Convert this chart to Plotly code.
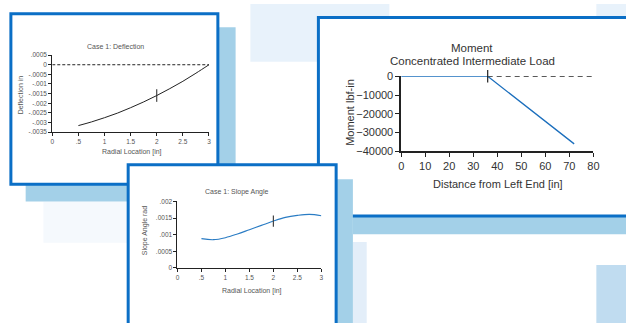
import plotly.graph_objects as go

W, H = 626, 323

# ---------------- data ----------------
defl_x = [0.5, 0.75, 1.0, 1.25, 1.5, 1.75, 2.0, 2.25, 2.5, 2.75, 3.0]
defl_y = [-0.00316, -0.00297, -0.00275, -0.00251, -0.00223, -0.00193,
          -0.00160, -0.00124, -0.00086, -0.00044, 0.0]
defl_zero_x = [0, 3]
defl_zero_y = [0, 0]
defl_mark_x = [2.0]
defl_mark_y = [-0.00160]
defl_xticks = [0, 0.5, 1, 1.5, 2, 2.5, 3]
defl_xlabels = ["0", ".5", "1", "1.5", "2", "2.5", "3"]
defl_yticks = [0.0005, 0, -0.0005, -0.001, -0.0015, -0.002, -0.0025, -0.003, -0.0035]
defl_ylabels = [".0005", "0", "-.0005", "-.001", "-.0015", "-.002", "-.0025", "-.003", "-.0035"]

slope_x = [0.5, 0.75, 1.0, 1.25, 1.5, 1.75, 2.0, 2.25, 2.5, 2.75, 3.0]
slope_y = [0.00088, 0.00085, 0.00091, 0.00102, 0.00115, 0.00128,
           0.00141, 0.00152, 0.00158, 0.00161, 0.00157]
slope_mark_x = [2.0]
slope_mark_y = [0.00141]
slope_xticks = [0, 0.5, 1, 1.5, 2, 2.5, 3]
slope_xlabels = ["0", ".5", "1", "1.5", "2", "2.5", "3"]
slope_yticks = [0, 0.0005, 0.001, 0.0015, 0.002]
slope_ylabels = ["0", ".0005", ".001", ".0015", ".002"]

mom_x = [0, 36, 72]
mom_y = [0, 0, -36000]
mom_zero_x = [36, 80]
mom_zero_y = [0, 0]
mom_mark_x = [36]
mom_mark_y = [0]
mom_xticks = [0, 10, 20, 30, 40, 50, 60, 70, 80]
mom_yticks = [0, -10000, -20000, -30000, -40000]

# ---------------- helpers ----------------
def px(x):
    return x / W

def py(y):
    return 1 - y / H

def rect(x0, y0, x1, y1, fill, line=None, lw=0):
    d = dict(type="rect", xref="paper", yref="paper",
             x0=px(x0), x1=px(x1), y0=py(y1), y1=py(y0),
             fillcolor=fill, layer="below")
    if line:
        d["line"] = dict(color=line, width=lw)
    else:
        d["line"] = dict(width=0)
    return d

BLUE = "#0b6fc6"
SHADOW = "#a3d0e8"
PALE = "#e8f2fb"
SMALL_FONT = dict(family="Liberation Sans, Arial, sans-serif", size=6.5, color="#555555")
BIG_FONT = dict(family="Liberation Sans, Arial, sans-serif", size=11, color="#333333")

fig = go.Figure()

# deflection
fig.add_trace(go.Scatter(x=defl_zero_x, y=defl_zero_y, mode="lines",
                         line=dict(color="#222222", width=1, dash="3px,2px"),
                         xaxis="x", yaxis="y", showlegend=False, hoverinfo="skip"))
fig.add_trace(go.Scatter(x=defl_x, y=defl_y, mode="lines", line_shape="spline",
                         line=dict(color="#222222", width=1),
                         xaxis="x", yaxis="y", showlegend=False))
fig.add_trace(go.Scatter(x=defl_mark_x, y=defl_mark_y, mode="markers",
                         marker=dict(symbol="line-ns", size=9, line=dict(color="#222222", width=1)),
                         xaxis="x", yaxis="y", showlegend=False))

# moment
fig.add_trace(go.Scatter(x=mom_zero_x, y=mom_zero_y, mode="lines",
                         line=dict(color="#222222", width=1.2, dash="5px,4px"),
                         xaxis="x2", yaxis="y2", showlegend=False, cliponaxis=False))
fig.add_trace(go.Scatter(x=mom_x, y=mom_y, mode="lines",
                         line=dict(color="#1c6fbd", width=1.3),
                         xaxis="x2", yaxis="y2", showlegend=False, cliponaxis=False))
fig.add_trace(go.Scatter(x=mom_mark_x, y=mom_mark_y, mode="markers",
                         marker=dict(symbol="line-ns", size=9, line=dict(color="#222222", width=1.2)),
                         xaxis="x2", yaxis="y2", showlegend=False, cliponaxis=False))

# slope
fig.add_trace(go.Scatter(x=slope_x, y=slope_y, mode="lines", line_shape="spline",
                         line=dict(color="#2a7cc4", width=1.1),
                         xaxis="x3", yaxis="y3", showlegend=False))
fig.add_trace(go.Scatter(x=slope_mark_x, y=slope_mark_y, mode="markers",
                         marker=dict(symbol="line-ns", size=8, line=dict(color="#444444", width=1.2)),
                         xaxis="x3", yaxis="y3", showlegend=False))

small_axis = dict(showgrid=False, zeroline=False, showline=True, linecolor="#222222",
                  linewidth=1, ticks="outside", ticklen=3, tickwidth=1, tickcolor="#222222",
                  tickfont=SMALL_FONT, fixedrange=True)
big_axis = dict(showgrid=False, zeroline=False, showline=True, linecolor="#222222",
                linewidth=1.5, ticks="outside", ticklen=4, tickwidth=1.2, tickcolor="#222222",
                tickfont=BIG_FONT, fixedrange=True)

shapes = [
    rect(251, -2, 392, 58, PALE),
    rect(602, -2, 640, 30, PALE),
    rect(602, 269, 640, 330, "#c0dcf0"),
    rect(41, 203, 127, 246, "#f5f9fd"),
    rect(355, 245, 369, 330, "#e3eef9"),
    rect(23, 22, 236, 203, SHADOW),
    rect(8, 8, 218, 185, "white", BLUE, 3),
    rect(355, 30, 640, 237, SHADOW),
    rect(320, 12, 640, 218, "white", BLUE, 3),
    rect(150, 180, 355, 330, SHADOW),
    rect(127, 165, 338, 335, "white", BLUE, 3),
]

def ann(text, x, y, font, angle=0):
    return dict(text=text, x=px(x), y=py(y), xref="paper", yref="paper",
                showarrow=False, font=font, textangle=angle,
                xanchor="center", yanchor="middle")

title_small = dict(SMALL_FONT, size=7)
annotations = [
    ann("Case 1: Deflection", 114, 42, title_small),
    ann("Deflection in", 18, 92, title_small, -90),
    ann("Radial Location [in]", 131, 152, title_small),
    ann("Moment", 476, 44, dict(BIG_FONT, size=11.5)),
    ann("Concentrated Intermediate Load", 476, 57, dict(BIG_FONT, size=11.5)),
    ann("Moment lbf-in", 352, 110, BIG_FONT, -90),
    ann("Distance from Left End [in]", 502, 185, BIG_FONT),
    ann("Case 1: Slope Angle", 237, 193, title_small),
    ann("Slope Angle rad", 144, 233, title_small, -90),
    ann("Radial Location [in]", 253, 296, title_small),
]

fig.update_layout(
    width=W, height=H,
    margin=dict(l=0, r=0, t=0, b=0),
    paper_bgcolor="white",
    plot_bgcolor="rgba(0,0,0,0)",
    showlegend=False,
    shapes=shapes,
    annotations=annotations,
    xaxis=dict(small_axis, domain=[px(50), px(209)], range=[0, 3], anchor="y",
               tickvals=defl_xticks, ticktext=defl_xlabels),
    yaxis=dict(small_axis, domain=[py(131), py(51)], range=[-0.0035, 0.0005], anchor="x",
               tickvals=defl_yticks, ticktext=defl_ylabels),
    xaxis2=dict(big_axis, domain=[px(404), px(599)], range=[0, 80], anchor="y2",
                tickvals=mom_xticks),
    yaxis2=dict(big_axis, domain=[py(151), py(73)], range=[-40000, 0], anchor="x2",
                tickvals=mom_yticks, tickformat="d"),
    xaxis3=dict(small_axis, domain=[px(177), px(323)], range=[0, 3], anchor="y3",
                tickvals=slope_xticks, ticktext=slope_xlabels),
    yaxis3=dict(small_axis, domain=[py(272), py(203)], range=[0, 0.002], anchor="x3",
                tickvals=slope_yticks, ticktext=slope_ylabels),
)

fig.write_html("out.html", config={"displayModeBar": False},
               post_script="document.body.style.margin='0';document.body.style.overflow='hidden';")
